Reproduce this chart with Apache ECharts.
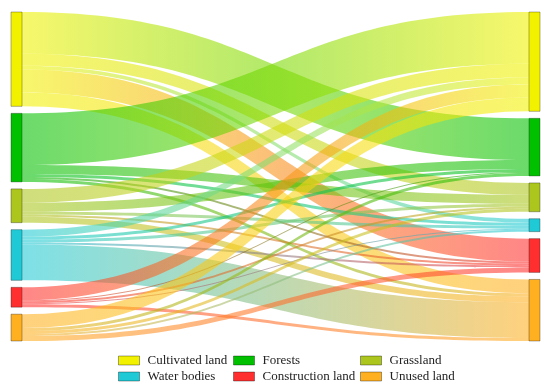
<!DOCTYPE html>
<html>
<head>
<meta charset="utf-8">
<script src="https://cdn.jsdelivr.net/npm/echarts@6/dist/echarts.min.js"></script>
<style>html,body{margin:0;padding:0;background:#fff}#c{width:550px;height:391px}</style>
</head>
<body>
<div id="c"></div>
<script>
// Land-use categories (same order on both sides)
const categories = ['Cultivated land', 'Forests', 'Grassland', 'Water bodies', 'Construction land', 'Unused land'];
// Transfer values from each source class to target classes (order = categories)
const fromCultivated   = [0, 42, 12, 4, 23, 14];
const fromForests      = [52, 0, 9, 3, 2, 3];
const fromGrassland    = [14, 9, 0, 3, 2, 6];
const fromWater        = [7, 3, 3, 0, 2, 36];
const fromConstruction = [13, 1, 2, 1, 0, 3];
const fromUnused       = [14, 3, 3, 2, 5, 0];
// legend columns
const legendCol1 = ['Cultivated land', 'Water bodies'];
const legendCol2 = ['Forests', 'Construction land'];
const legendCol3 = ['Grassland', 'Unused land'];

const colors = ['#f2f200', '#00c000', '#adc61e', '#1fcad6', '#ff2f2f', '#ffb020'];
const flowRows = [fromCultivated, fromForests, fromGrassland, fromWater, fromConstruction, fromUnused];

const nodes = [];
categories.forEach((c, i) => nodes.push({name: 'L_' + c, itemStyle: {color: colors[i]}}));
categories.forEach((c, i) => nodes.push({name: 'R_' + c, itemStyle: {color: colors[i]}}));
const links = [];
flowRows.forEach((row, i) => row.forEach((v, j) => {
  if (v > 0) links.push({source: 'L_' + categories[i], target: 'R_' + categories[j], value: v});
}));

const chart = echarts.init(document.getElementById('c'), null, {renderer: 'canvas'});
const legendBase = {
  orient: 'vertical', top: 354, height: 36, padding: 0,
  itemWidth: 21, itemHeight: 9, itemGap: 3,
  icon: 'rect', selectedMode: false,
  itemStyle: {borderColor: 'rgba(0,0,0,0.35)', borderWidth: 1},
  textStyle: {fontFamily: 'Liberation Serif', fontSize: 13, color: '#222', lineHeight: 13, padding: [0, 0, 0, 3]}
};
chart.setOption({
  animation: false,
  legend: [
    Object.assign({}, legendBase, {left: 118, data: legendCol1}),
    Object.assign({}, legendBase, {left: 233, data: legendCol2}),
    Object.assign({}, legendBase, {left: 360, data: legendCol3})
  ],
  series: [
    {
      type: 'sankey',
      left: 11, right: 10, top: 12, bottom: 50,
      nodeWidth: 11, nodeGap: 7, layoutIterations: 0,
      draggable: false,
      label: {show: false},
      emphasis: {disabled: true},
      itemStyle: {borderColor: 'rgba(0,0,0,0.3)', borderWidth: 1},
      lineStyle: {color: 'gradient', opacity: 0.58, curveness: 0.5},
      data: nodes,
      links: links
    },
    {
      type: 'pie', center: [-300, -300], radius: 5, silent: true,
      label: {show: false}, labelLine: {show: false},
      data: categories.map((c, i) => ({name: c, value: 1, itemStyle: {color: colors[i]}}))
    }
  ]
});
</script>
</body>
</html>
